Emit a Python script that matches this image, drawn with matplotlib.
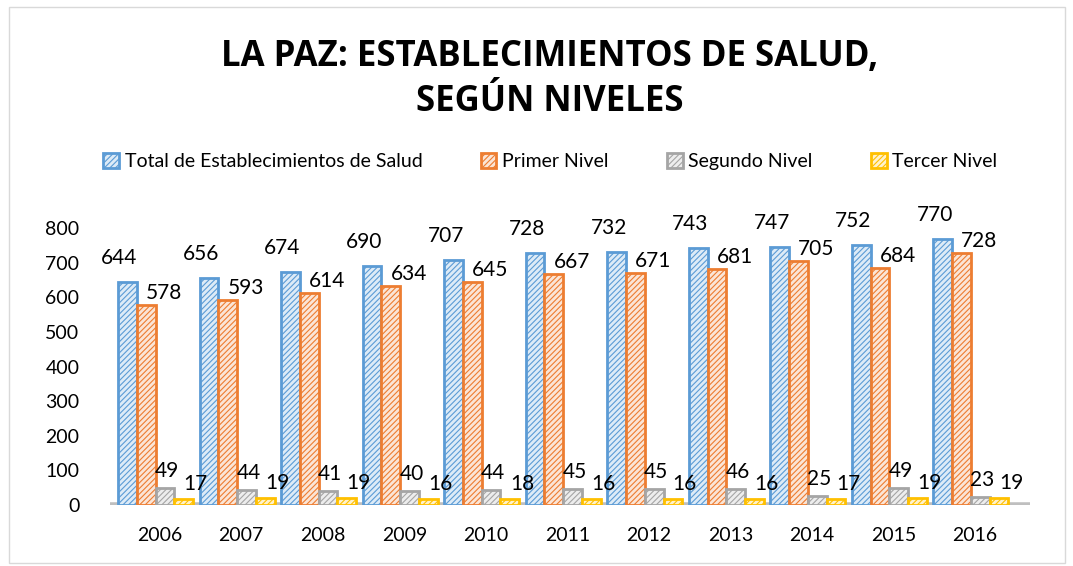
import matplotlib.pyplot as plt
import numpy as np
from matplotlib.patches import Rectangle

# datos
years = ['2006', '2007', '2008', '2009', '2010', '2011', '2012', '2013', '2014', '2015', '2016']
total = [644, 656, 674, 690, 707, 728, 732, 743, 747, 752, 770]
primer = [578, 593, 614, 634, 645, 667, 671, 681, 705, 684, 728]
segundo = [49, 44, 41, 40, 44, 45, 45, 46, 25, 49, 23]
tercer = [17, 19, 19, 16, 18, 16, 16, 16, 17, 19, 19]

series = ['Total de Establecimientos de Salud', 'Primer Nivel', 'Segundo Nivel', 'Tercer Nivel']
edges = ['#5B9BD5', '#ED7D31', '#A5A5A5', '#FFC000']
fills = ['#DDEBF7', '#FBE5D6', '#EDEDED', '#FFF2CC']
offsets = [(-8, 24), (18, 12), (2, 17), (12, 15)]

plt.rcParams['font.family'] = ['Lato', 'DejaVu Sans']
plt.rcParams['hatch.linewidth'] = 0.8

fig = plt.figure(figsize=(10.73, 5.66), dpi=100)
fig.patches.append(Rectangle((0.008, 0.005), 0.985, 0.983, transform=fig.transFigure,
                             fill=False, edgecolor='#D9D9D9', linewidth=1))
ax = fig.add_axes([0.1025, 0.1078, 0.857, 0.489])

x = np.arange(len(years))
w = 0.23
for i, vals in enumerate([total, primer, segundo, tercer]):
    pos = x + (i - 1.5) * w - 0.05
    ax.bar(pos, vals, width=w, facecolor=fills[i], edgecolor=edges[i],
           hatch='//////', linewidth=2, label=series[i], zorder=3)
    for px, v in zip(pos, vals):
        ax.annotate(str(v), (px, v), xytext=offsets[i], textcoords='offset pixels',
                    ha='center', va='center', fontsize=15, color='black',
                    annotation_clip=False, zorder=5)

ax.axhline(0, color='#BFBFBF', linewidth=4, zorder=2)
ax.set_ylim(0, 800)
ax.set_xlim(-0.61, 10.67)
ax.set_yticks(range(0, 801, 100))
ax.set_xticks(x)
ax.set_xticklabels(years)
ax.tick_params(axis='both', length=0, labelsize=14)
ax.tick_params(axis='y', pad=22)
ax.tick_params(axis='x', pad=16)
for s in ax.spines.values():
    s.set_visible(False)

fig.text(0.512, 0.86, 'LA PAZ: ESTABLECIMIENTOS DE SALUD,\nSEGÚN NIVELES', ha='center', va='center',
         fontsize=25, fontweight='bold', family=['Open Sans', 'DejaVu Sans'], linespacing=1.35)

fig.legend(loc='center', bbox_to_anchor=(0.513, 0.714), ncol=4, frameon=False, fontsize=14,
           handlelength=0.8, handleheight=0.8, handletextpad=0.3, columnspacing=3.0)

fig.savefig('out.png', dpi=100)
